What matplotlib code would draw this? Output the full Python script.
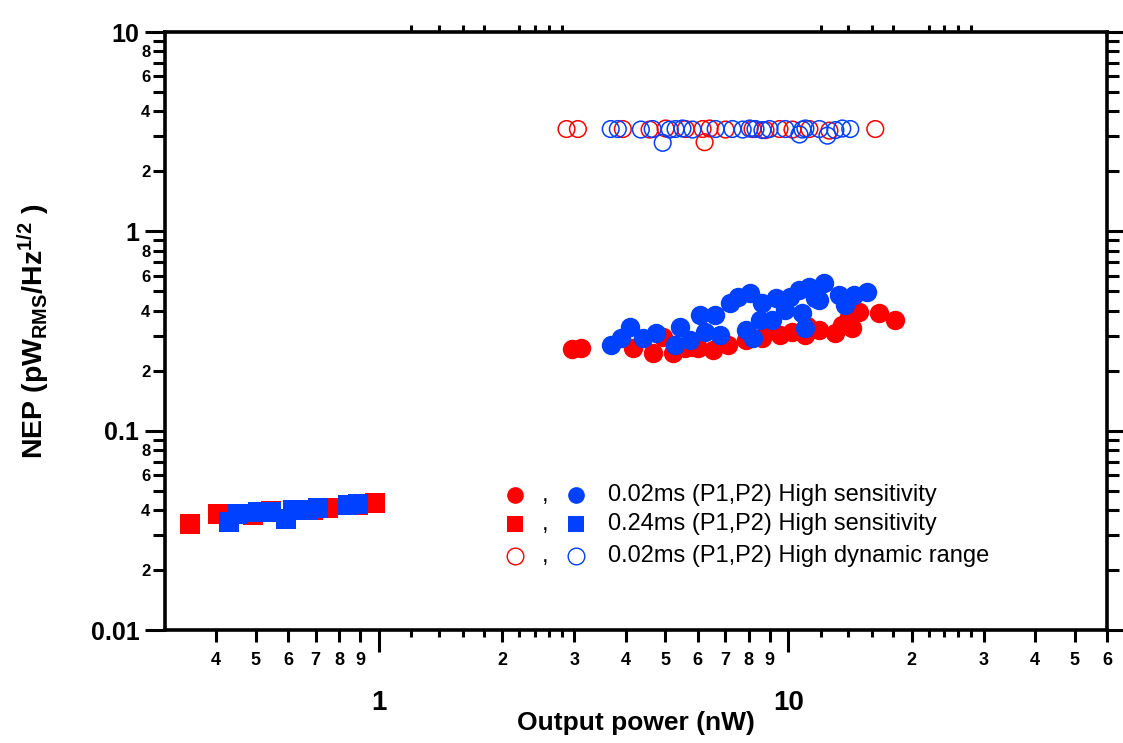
import matplotlib
matplotlib.use("Agg")
import matplotlib.pyplot as plt
import numpy as np
from matplotlib.ticker import FixedLocator, NullLocator, FuncFormatter, FixedFormatter

plt.rcParams["font.family"] = ["Liberation Sans", "DejaVu Sans"]
plt.rcParams["font.weight"] = "bold"
plt.rcParams["axes.labelweight"] = "bold"
plt.rcParams["mathtext.fontset"] = "custom"
plt.rcParams["mathtext.default"] = "regular"

RED = "#FF0000"
BLUE = "#0040FF"

# 0.24 ms integration, high sensitivity (squares)
sq_p1_power = [0.346, 0.405, 0.493, 0.545, 0.617, 0.690, 0.751, 0.889, 0.978]
sq_p1_nep = [0.0340, 0.0381, 0.0377, 0.0395, 0.0400, 0.0400, 0.0409, 0.0423, 0.0433]
sq_p2_power = [0.431, 0.453, 0.507, 0.545, 0.593, 0.617, 0.671, 0.710, 0.840, 0.889]
sq_p2_nep = [0.0348, 0.0381, 0.0390, 0.0390, 0.0360, 0.0400, 0.0400, 0.0409, 0.0423, 0.0428]

# 0.02 ms integration, high sensitivity (filled circles)
hs_p1_power = [2.96, 3.11, 4.16, 4.66, 4.93, 5.21, 5.58, 5.83, 6.00, 6.53, 7.10, 7.86,
               8.64, 8.88, 9.51, 10.23, 11.00, 11.13, 11.90, 13.02, 13.54, 14.08, 14.32,
               14.90, 16.67, 18.24]
hs_p1_nep = [0.257, 0.260, 0.260, 0.245, 0.295, 0.245, 0.260, 0.262, 0.260, 0.254, 0.269,
             0.285, 0.292, 0.320, 0.302, 0.313, 0.302, 0.335, 0.320, 0.309, 0.339, 0.372,
             0.327, 0.394, 0.389, 0.359]
hs_p2_power = [3.68, 3.89, 4.10, 4.41, 4.74, 5.27, 5.42, 5.74, 6.07, 6.60, 6.27, 6.79,
               7.18, 7.51, 8.04, 7.86, 8.17, 8.64, 9.30, 10.06, 10.64, 11.25, 12.24,
               11.64, 11.00, 10.82, 9.83, 9.14, 8.50, 13.32, 13.77, 14.49, 15.58, 11.90]
hs_p2_nep = [0.269, 0.292, 0.331, 0.292, 0.309, 0.269, 0.331, 0.285, 0.380, 0.380, 0.313,
             0.302, 0.437, 0.468, 0.490, 0.320, 0.292, 0.437, 0.463, 0.468, 0.508, 0.525,
             0.550, 0.463, 0.327, 0.389, 0.403, 0.359, 0.359, 0.479, 0.427, 0.479, 0.496,
             0.452]

# 0.02 ms integration, high dynamic range (open circles)
hd_p1_power = [2.87, 3.06, 3.94, 4.58, 5.01, 5.61, 6.17, 6.24, 6.42, 7.02, 8.17, 8.79,
               9.51, 10.23, 11.25, 12.59, 16.30]
hd_p1_nep = [3.26, 3.26, 3.26, 3.24, 3.28, 3.26, 3.26, 2.80, 3.28, 3.24, 3.26, 3.22,
             3.26, 3.24, 3.26, 3.20, 3.26]
hd_p2_power = [3.68, 3.83, 4.36, 4.66, 4.93, 5.13, 5.30, 5.51, 5.83, 6.64, 7.30, 7.73,
               8.04, 8.31, 8.64, 8.99, 9.83, 10.64, 10.82, 11.00, 11.90, 12.45, 13.02,
               13.54, 14.16]
hd_p2_nep = [3.26, 3.26, 3.24, 3.26, 2.78, 3.24, 3.26, 3.28, 3.24, 3.26, 3.26, 3.24,
             3.28, 3.26, 3.22, 3.26, 3.26, 3.06, 3.24, 3.28, 3.26, 3.02, 3.22, 3.28, 3.26]

# axis ticks
x_major = [1, 10]
x_major_labels = ["1", "10"]
x_minor = [0.4, 0.5, 0.6, 0.7, 0.8, 0.9, 2, 3, 4, 5, 6, 7, 8, 9, 20, 30, 40, 50, 60]
x_fine = [1.2, 1.4, 1.6, 1.8, 2.2, 2.4, 2.6, 2.8, 12, 14, 16, 18, 22, 24, 26, 28]
y_major = [0.01, 0.1, 1, 10]
y_major_labels = ["0.01", "0.1", "1", "10"]
y_minor = [m * d for d in (0.01, 0.1, 1) for m in range(2, 10)]

legend_rows = ["0.02ms (P1,P2) High sensitivity",
               "0.24ms (P1,P2) High sensitivity",
               "0.02ms (P1,P2) High dynamic range"]


def mantissa(v):
    return v / 10 ** np.floor(np.log10(v) + 1e-9)


W, H = 1123, 743
fig = plt.figure(figsize=(W / 100, H / 100), dpi=100)
ax = fig.add_axes([165 / W, (H - 630) / H, 942 / W, 598 / H])
ax.set_xscale("log")
ax.set_yscale("log")
ax.set_xlim(0.3, 60)
ax.set_ylim(0.01, 10)

ms_fill = 14
ax.scatter(sq_p1_power, sq_p1_nep, marker="s", s=ms_fill ** 2, c=RED, linewidths=0, zorder=3)
ax.scatter(sq_p2_power, sq_p2_nep, marker="s", s=ms_fill ** 2, c=BLUE, linewidths=0, zorder=4)
ax.scatter(hs_p1_power, hs_p1_nep, marker="o", s=ms_fill ** 2, c=RED, linewidths=0, zorder=3)
ax.scatter(hs_p2_power, hs_p2_nep, marker="o", s=ms_fill ** 2, c=BLUE, linewidths=0, zorder=4)
ax.scatter(hd_p1_power, hd_p1_nep, marker="o", s=12 ** 2, facecolors="none",
           edgecolors=RED, linewidths=1.1, zorder=3)
ax.scatter(hd_p2_power, hd_p2_nep, marker="o", s=12 ** 2, facecolors="none",
           edgecolors=BLUE, linewidths=1.1, zorder=4)

# spines and ticks
for sp in ax.spines.values():
    sp.set_linewidth(2.6)

ax.xaxis.set_major_locator(FixedLocator(x_major))
ax.xaxis.set_major_formatter(FixedFormatter(x_major_labels))
ax.xaxis.set_minor_locator(FixedLocator(x_minor))
ax.xaxis.set_minor_formatter(FuncFormatter(lambda v, p: f"{mantissa(v):.0f}"))
ax.yaxis.set_major_locator(FixedLocator(y_major))
ax.yaxis.set_major_formatter(FixedFormatter(y_major_labels))
ax.yaxis.set_minor_locator(FixedLocator(y_minor))
ax.yaxis.set_minor_formatter(FuncFormatter(
    lambda v, p: f"{mantissa(v):.0f}" if round(mantissa(v)) % 2 == 0 else ""))

ax.tick_params(axis="both", which="both", direction="out", width=2.2,
               top=True, right=True, labeltop=False, labelright=False)
ax.tick_params(axis="x", which="major", length=16, pad=27, labelsize=20)
ax.tick_params(axis="x", which="minor", length=8.5, pad=7, labelsize=13)
ax.tick_params(axis="y", which="major", length=14.5, pad=4, labelsize=18)
ax.tick_params(axis="y", which="minor", length=8.5, pad=2, labelsize=12)

# short intermediate ticks on the x axis
ax2 = ax.twiny()
ax2.set_xscale("log")
ax2.set_xlim(ax.get_xlim())
ax2.xaxis.set_major_locator(FixedLocator(x_fine))
ax2.xaxis.set_minor_locator(NullLocator())
ax2.tick_params(axis="x", which="major", direction="out", length=5, width=2.2,
                bottom=True, top=True, labelbottom=False, labeltop=False)
for sp in ax2.spines.values():
    sp.set_visible(False)

ax.set_xlabel("Output power (nW)", fontsize=19, fontweight="bold")
ax.xaxis.set_label_coords(0.5, -0.135)
ax.set_ylabel("NEP (pW$_{RMS}$/Hz$^{1/2}$ )", fontsize=20.5, fontweight="bold")
ax.yaxis.set_label_coords(-0.12, 0.5)

# legend
rows_y = [0.2258, 0.1773, 0.1237]
styles = [dict(marker="o", mfc=None), dict(marker="s", mfc=None), dict(marker="o", mfc="none")]
for ry, label, st in zip(rows_y, legend_rows, styles):
    for xx, col in ((0.3716, RED), (0.4363, BLUE)):
        face = col if st["mfc"] is None else "none"
        ax.plot([xx], [ry], marker=st["marker"], ms=12 if st["marker"] == "o" else 11,
                mfc=face, mec=col, mew=1.0 if face == "none" else 0, ls="none",
                transform=ax.transAxes, clip_on=False)
    ax.text(0.4034, ry, ",", transform=ax.transAxes, fontsize=17, fontweight="normal",
            ha="center", va="center")
    ax.text(0.4703, ry, label, transform=ax.transAxes, fontsize=17, fontweight="normal",
            ha="left", va="center")

fig.savefig("out.png", dpi=100)
